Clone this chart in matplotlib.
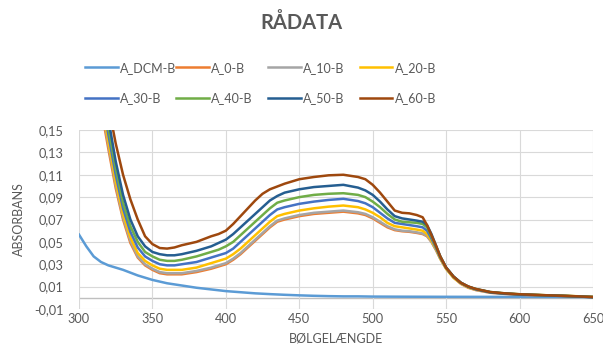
import matplotlib
matplotlib.use('Agg')
import matplotlib.pyplot as plt

plt.rcParams['font.family'] = ['Lato', 'DejaVu Sans']

# wavelengths for the sample spectra
wl = [300, 310, 315, 320, 325, 330, 335, 340, 345, 350,
      355, 360, 365, 370, 380, 390, 395, 400, 405, 410,
      415, 420, 425, 430, 435, 440, 450, 460, 470, 480,
      490, 495, 500, 505, 510, 515, 520, 525, 530, 534,
      537, 540, 543, 546, 550, 555, 560, 565, 570, 580,
      590, 600, 610, 620, 630, 640, 650]

a_0 = [0.40, 0.23, 0.170, 0.133, 0.098, 0.070, 0.049, 0.036, 0.029, 0.025,
       0.022, 0.021, 0.021, 0.021, 0.023, 0.026, 0.028, 0.030, 0.034, 0.039,
       0.045, 0.051, 0.057, 0.063, 0.068, 0.070, 0.073, 0.075, 0.076, 0.077,
       0.0755, 0.074, 0.071, 0.067, 0.063, 0.0605, 0.0595, 0.059, 0.058, 0.057,
       0.055, 0.050, 0.043, 0.035, 0.026, 0.018, 0.0125, 0.009, 0.007, 0.0045,
       0.0035, 0.0028, 0.0023, 0.0020, 0.0016, 0.0012, 0.0006]

a_10 = [0.41, 0.235, 0.174, 0.137, 0.101, 0.072, 0.051, 0.037, 0.030, 0.026,
        0.023, 0.022, 0.022, 0.022, 0.024, 0.027, 0.029, 0.031, 0.035, 0.040,
        0.046, 0.052, 0.058, 0.064, 0.069, 0.071, 0.074, 0.076, 0.077, 0.078,
        0.0765, 0.075, 0.072, 0.068, 0.064, 0.0612, 0.060, 0.0595, 0.0585, 0.0575,
        0.0555, 0.050, 0.043, 0.035, 0.026, 0.0185, 0.013, 0.0095, 0.0072, 0.0047,
        0.0036, 0.0029, 0.0024, 0.0021, 0.0017, 0.0012, 0.0007]

a_20 = [0.42, 0.24, 0.178, 0.140, 0.104, 0.075, 0.054, 0.040, 0.033, 0.029,
        0.026, 0.025, 0.025, 0.025, 0.027, 0.031, 0.033, 0.035, 0.039, 0.044,
        0.050, 0.056, 0.062, 0.068, 0.073, 0.075, 0.078, 0.080, 0.0815, 0.0825,
        0.081, 0.079, 0.076, 0.072, 0.067, 0.064, 0.063, 0.062, 0.061, 0.060,
        0.057, 0.051, 0.044, 0.035, 0.026, 0.018, 0.013, 0.0095, 0.0075, 0.005,
        0.0038, 0.0031, 0.0026, 0.0022, 0.0018, 0.0014, 0.0008]

a_30 = [0.43, 0.25, 0.185, 0.146, 0.110, 0.080, 0.059, 0.045, 0.037, 0.033,
        0.030, 0.029, 0.029, 0.030, 0.032, 0.036, 0.038, 0.040, 0.044, 0.050,
        0.056, 0.062, 0.068, 0.074, 0.079, 0.081, 0.084, 0.086, 0.0875, 0.0885,
        0.0865, 0.0845, 0.081, 0.076, 0.071, 0.067, 0.066, 0.065, 0.064, 0.063,
        0.060, 0.053, 0.045, 0.036, 0.027, 0.019, 0.0135, 0.010, 0.0078, 0.005,
        0.0037, 0.003, 0.0025, 0.0021, 0.0017, 0.0012, 0.0006]

a_40 = [0.44, 0.26, 0.192, 0.152, 0.116, 0.085, 0.064, 0.050, 0.041, 0.037,
        0.034, 0.033, 0.033, 0.034, 0.037, 0.041, 0.043, 0.046, 0.050, 0.056,
        0.062, 0.068, 0.074, 0.080, 0.085, 0.087, 0.090, 0.092, 0.093, 0.0935,
        0.092, 0.090, 0.086, 0.081, 0.075, 0.070, 0.068, 0.0675, 0.067, 0.066,
        0.063, 0.055, 0.046, 0.037, 0.027, 0.019, 0.0135, 0.010, 0.008, 0.0052,
        0.004, 0.0032, 0.0027, 0.0022, 0.0018, 0.0013, 0.0007]

a_50 = [0.45, 0.27, 0.200, 0.160, 0.122, 0.092, 0.070, 0.055, 0.046, 0.041,
        0.039, 0.038, 0.038, 0.039, 0.042, 0.046, 0.049, 0.052, 0.057, 0.063,
        0.069, 0.075, 0.081, 0.087, 0.091, 0.094, 0.097, 0.099, 0.100, 0.101,
        0.0985, 0.096, 0.092, 0.086, 0.079, 0.073, 0.071, 0.070, 0.069, 0.068,
        0.065, 0.057, 0.047, 0.037, 0.027, 0.019, 0.0135, 0.010, 0.0078, 0.005,
        0.0038, 0.003, 0.0025, 0.0021, 0.0016, 0.0011, 0.0006]

a_60 = [0.47, 0.29, 0.215, 0.172, 0.138, 0.110, 0.088, 0.070, 0.055, 0.048,
        0.0445, 0.044, 0.045, 0.047, 0.050, 0.055, 0.057, 0.060, 0.066, 0.073,
        0.080, 0.087, 0.093, 0.097, 0.0995, 0.102, 0.106, 0.108, 0.1095, 0.110,
        0.108, 0.106, 0.101, 0.094, 0.086, 0.078, 0.076, 0.0755, 0.074, 0.072,
        0.065, 0.056, 0.047, 0.037, 0.027, 0.019, 0.0135, 0.0102, 0.008, 0.0052,
        0.004, 0.0032, 0.0027, 0.0022, 0.0018, 0.0013, 0.0007]

# solvent blank
wl_dcm = [300, 305, 310, 315, 320, 330, 340, 350, 360, 370, 380, 390, 400,
          410, 420, 430, 440, 450, 460, 470, 480, 490, 500, 520, 550, 600, 650]
a_dcm = [0.0565, 0.046, 0.037, 0.032, 0.029, 0.025, 0.020, 0.016, 0.013, 0.011,
         0.009, 0.0075, 0.006, 0.005, 0.004, 0.0033, 0.0027, 0.0022, 0.0018,
         0.0015, 0.0013, 0.0013, 0.0011, 0.001, 0.0009, 0.0008, 0.0007]

labels = ['A_DCM-B', 'A_0-B', 'A_10-B', 'A_20-B', 'A_30-B', 'A_40-B', 'A_50-B', 'A_60-B']
colors = ['#5B9BD5', '#ED7D31', '#A5A5A5', '#FFC000', '#4472C4', '#70AD47', '#255E91', '#9E480E']

xticks = [300, 350, 400, 450, 500, 550, 600, 650]
yticks = [-0.01, 0.01, 0.03, 0.05, 0.07, 0.09, 0.11, 0.13, 0.15]
ytick_labels = ['-0,01', '0,01', '0,03', '0,05', '0,07', '0,09', '0,11', '0,13', '0,15']

txt = '#595959'

fig = plt.figure(figsize=(6.03, 3.49), dpi=100)
ax = fig.add_axes([0.131, 0.1146, 0.8524, 0.5129])

series = [(wl_dcm, a_dcm)] + [(wl, s) for s in [a_0, a_10, a_20, a_30, a_40, a_50, a_60]]
for (x, y), c, lab in zip(series, colors, labels):
    ax.plot(x, y, color=c, lw=1.8, label=lab, zorder=3)

ax.set_xlim(300, 650)
ax.set_ylim(-0.01, 0.15)
ax.set_xticks(xticks)
ax.set_yticks(yticks)
ax.set_yticklabels(ytick_labels)
ax.grid(True, color='#D9D9D9', lw=0.8, zorder=0)
ax.axhline(0, color='#BFBFBF', lw=1.0, zorder=1)
for s in ax.spines.values():
    s.set_visible(False)
ax.tick_params(length=0, labelsize=9.2, colors=txt)
ax.tick_params(axis='y', pad=11)
ax.tick_params(axis='x', pad=3)

ax.set_xlabel('BØLGELÆNGDE', fontsize=9, color=txt, labelpad=5)
ax.set_ylabel('ABSORBANS', fontsize=9, color=txt, labelpad=7)

fig.text(0.5, 0.935, 'RÅDATA', ha='center', va='center', fontsize=14.5,
         fontweight='bold', color=txt)

# legend: four columns of two entries, evenly spaced like Excel
lines = ax.get_lines()
col_x = [85, 176, 268, 360]
for k, xp in enumerate(col_x):
    hs = [lines[k], lines[k + 4]]
    ls = [labels[k], labels[k + 4]]
    leg = fig.legend(hs, ls, loc='center left', bbox_to_anchor=(xp / 603, 1 - 83 / 349),
                     frameon=False, fontsize=9, handlelength=2.6, handletextpad=0.2,
                     labelspacing=1.5, borderpad=0, borderaxespad=0)
    for t in leg.get_texts():
        t.set_color(txt)

fig.savefig('out.png', dpi=100)
print('Save out.png')
